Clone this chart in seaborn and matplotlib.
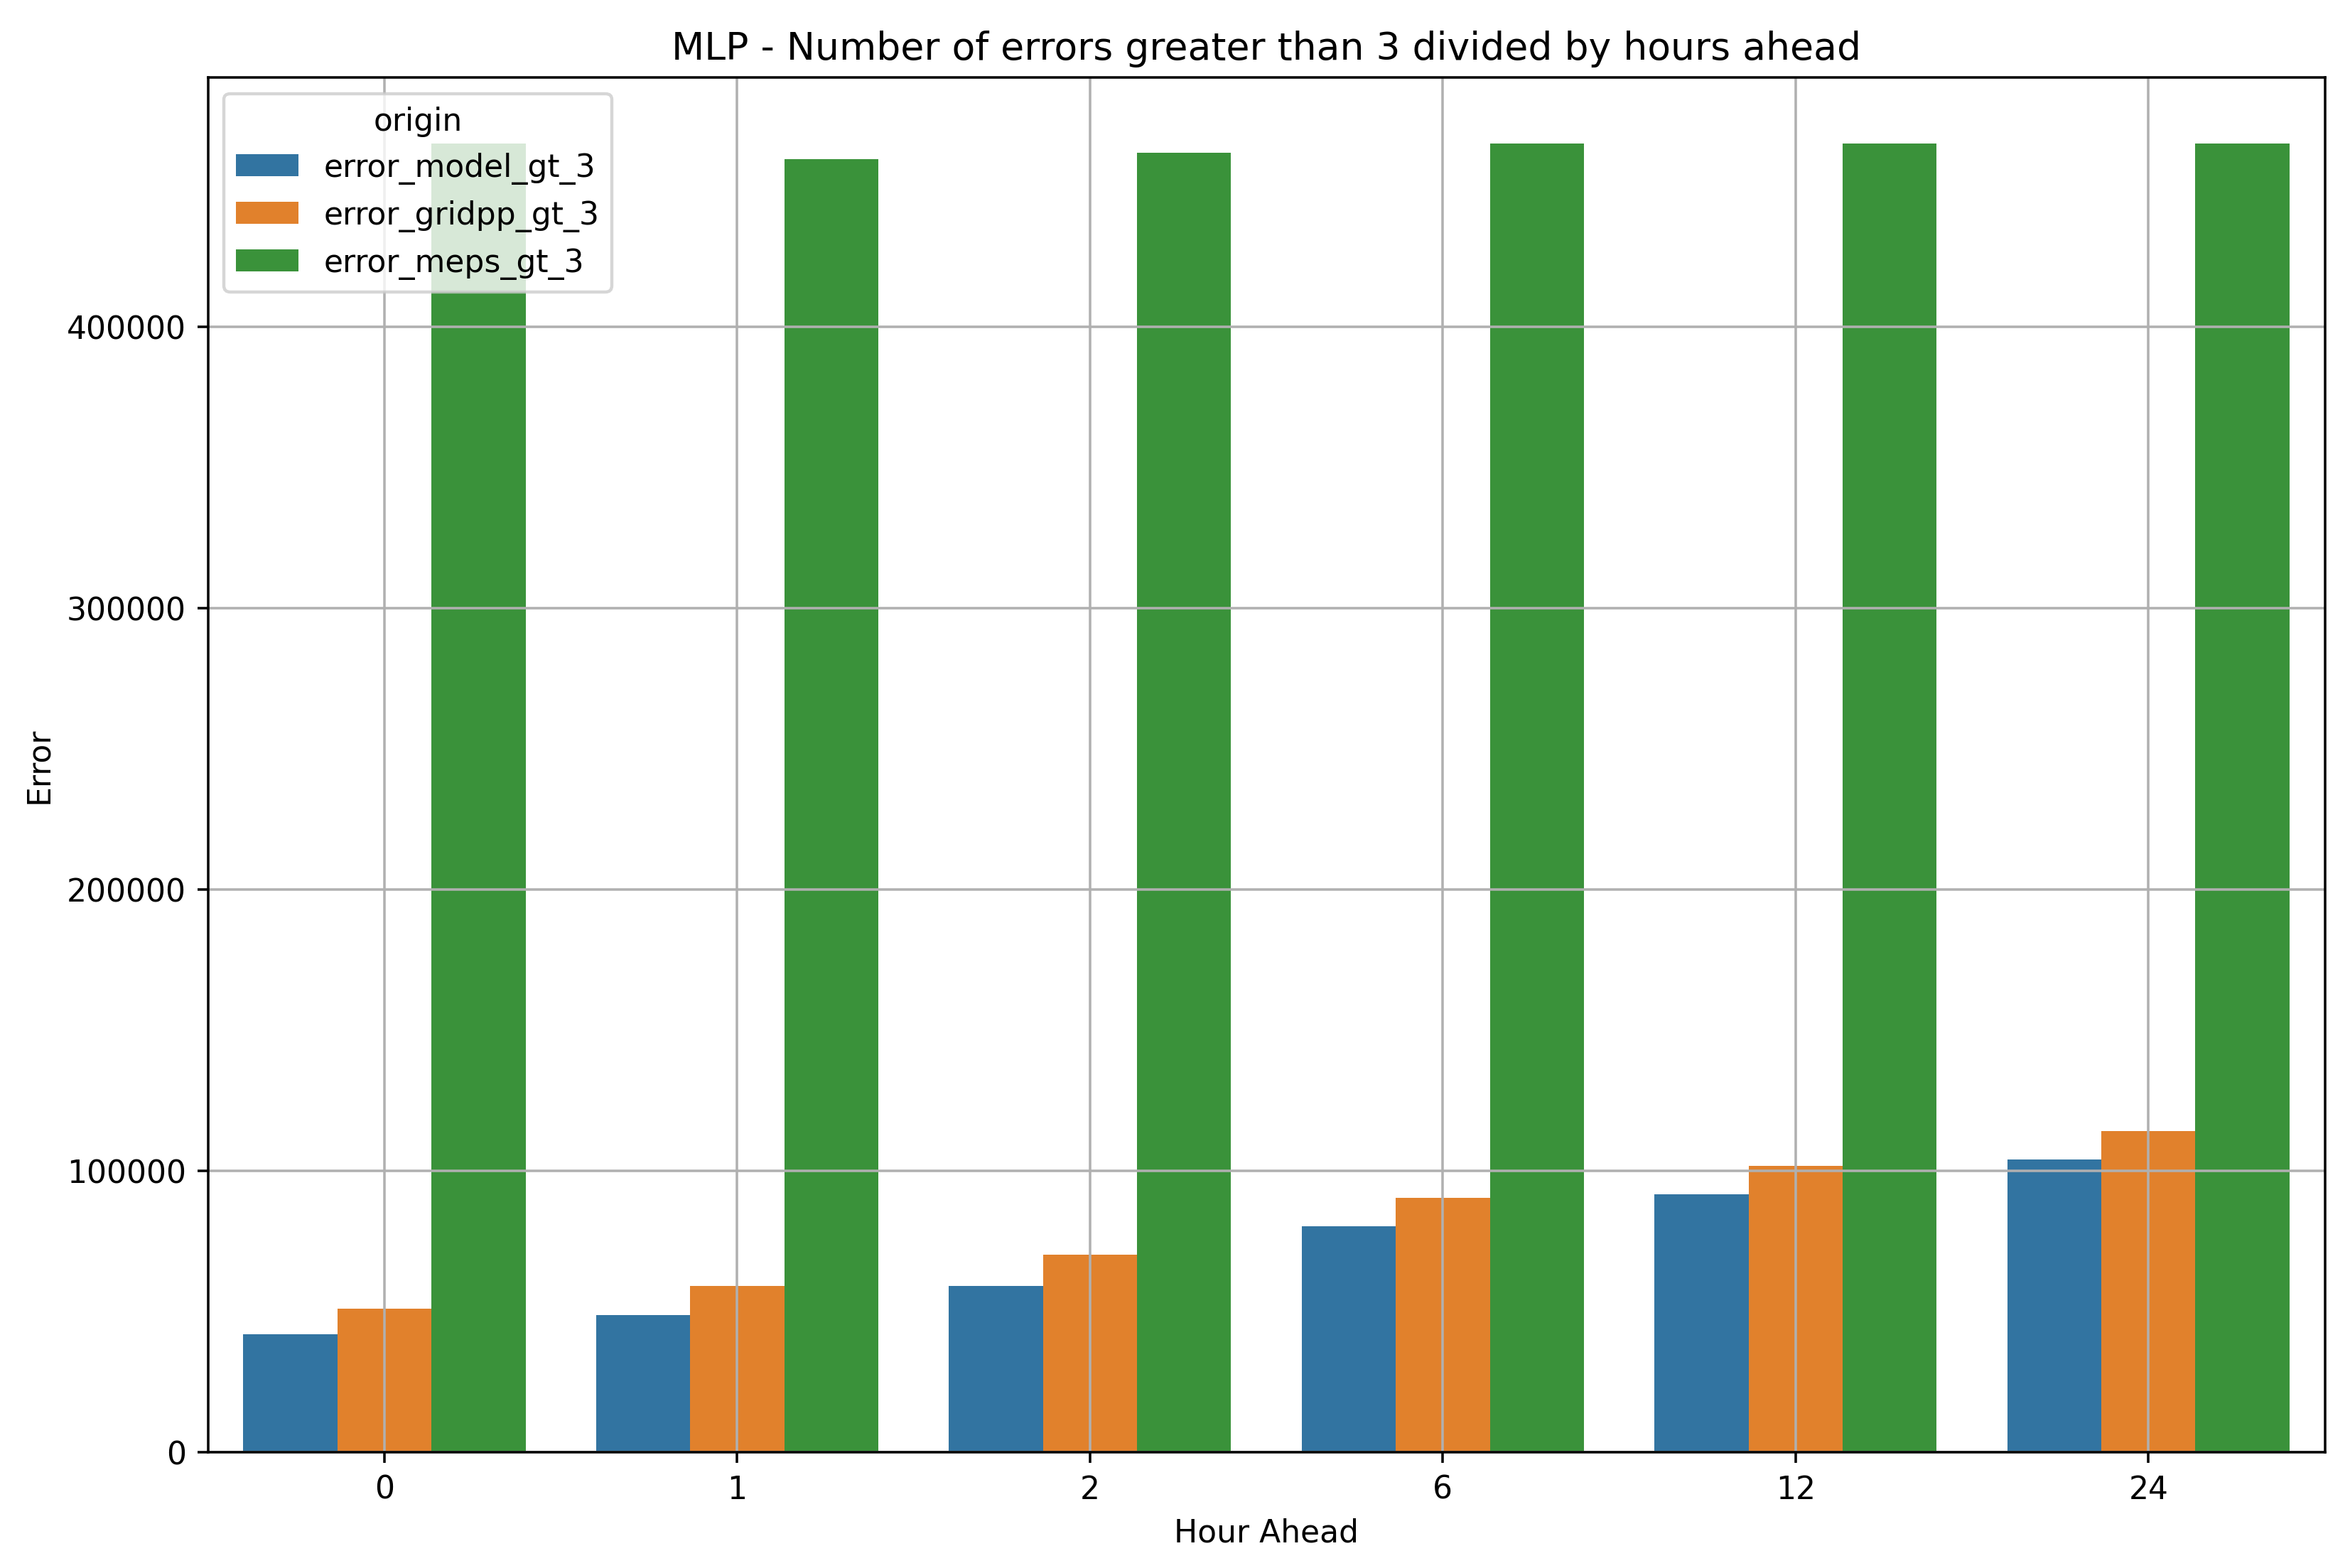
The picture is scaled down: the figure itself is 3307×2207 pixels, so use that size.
import matplotlib
matplotlib.use("Agg")
import matplotlib.pyplot as plt
import seaborn as sns
import pandas as pd

hours = ["0", "1", "2", "6", "12", "24"]
origins = ["error_model_gt_3", "error_gridpp_gt_3", "error_meps_gt_3"]
error_model_gt_3 = [42000, 48700, 59000, 80200, 91600, 104000]
error_gridpp_gt_3 = [51000, 59000, 70200, 90500, 101700, 114100]
error_meps_gt_3 = [465200, 459600, 461900, 465200, 465200, 465200]

values = {
    "error_model_gt_3": error_model_gt_3,
    "error_gridpp_gt_3": error_gridpp_gt_3,
    "error_meps_gt_3": error_meps_gt_3,
}
rows = []
for o in origins:
    for h, v in zip(hours, values[o]):
        rows.append({"Hour Ahead": h, "origin": o, "Error": v})
df = pd.DataFrame(rows)

fig, ax = plt.subplots(figsize=(10.435, 6.965), dpi=317)
fig.subplots_adjust(left=0.0885, right=0.989, top=0.950, bottom=0.0738)

sns.barplot(data=df, x="Hour Ahead", y="Error", hue="origin",
            order=hours, hue_order=origins, ax=ax)
ax.grid(True)
ax.set_title("MLP - Number of errors greater than 3 divided by hours ahead",
             fontsize=12.2)
ax.set_xlabel("Hour Ahead")
ax.set_ylabel("Error")
ax.legend(title="origin", loc="upper left")

fig.savefig("out.png", dpi=317)
